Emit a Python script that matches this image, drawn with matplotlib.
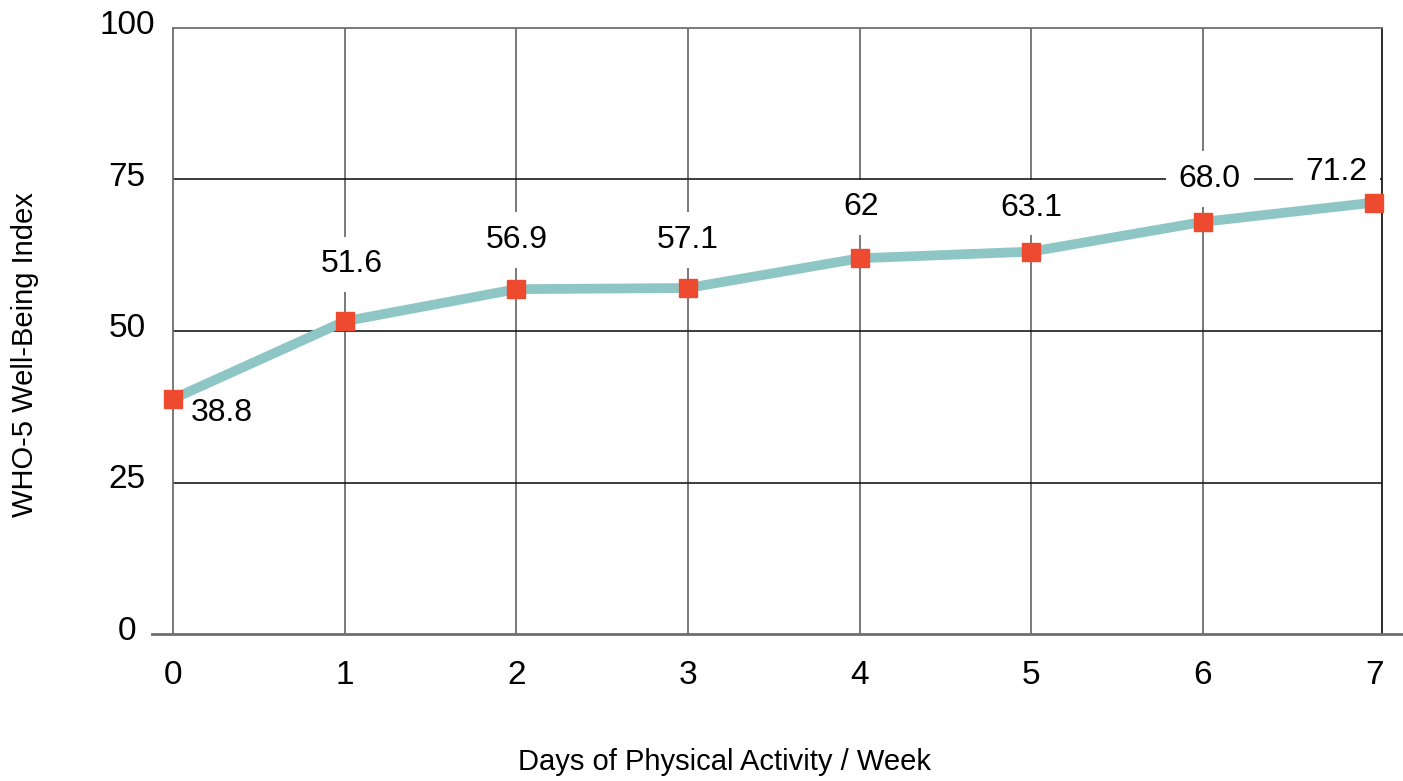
import matplotlib
matplotlib.use("Agg")
import matplotlib.pyplot as plt
import matplotlib.transforms as mtransforms

plt.rcParams['font.family'] = ['Liberation Sans', 'DejaVu Sans']

days = [0, 1, 2, 3, 4, 5, 6, 7]
wellbeing = [38.8, 51.6, 56.9, 57.1, 62, 63.1, 68.0, 71.2]
value_labels = ['38.8', '51.6', '56.9', '57.1', '62', '63.1', '68.0', '71.2']
y_ticks = [0, 25, 50, 75, 100]

# label offsets in pixels from each point (dx, dy)
label_offsets = [(49, -14), (7, 57), (0, 49), (0, 48), (2, 51), (0, 44), (7, 43), (-38, 31)]

fig = plt.figure(figsize=(14.03, 7.81), dpi=100)
ax = fig.add_axes([173 / 1403, 1 - 634 / 781, 1209 / 1403, 606 / 781])

ax.set_xlim(0, 7 + 7.5 / 171.6)
ax.set_ylim(0, 100)

# grid
for d in days[1:-1]:
    ax.axvline(d, color='#6e6e6e', lw=1.3, zorder=1)
for t in y_ticks[1:-1]:
    ax.axhline(t, color='#1a1a1a', lw=1.2, zorder=1)

for side in ['left', 'top']:
    ax.spines[side].set_color('#6e6e6e')
    ax.spines[side].set_linewidth(1.3)
ax.spines['right'].set_color('#1a1a1a')
ax.spines['right'].set_linewidth(1.3)
ax.spines['bottom'].set_visible(False)
ax.axhline(0, xmin=-21 / 1209, xmax=(1403 - 173) / 1209, color='#6e6e6e',
           lw=2, clip_on=False, zorder=3)

ax.plot(days, wellbeing, color='#8ec5c5', lw=7, zorder=4, solid_capstyle='butt')
ax.plot(days, wellbeing, ls='none', marker='s', ms=12.5, color='#ee4a30',
        mec='#ee4a30', zorder=5, clip_on=False)

for x, y, txt, (dx, dy) in zip(days, wellbeing, value_labels, label_offsets):
    ax.annotate(txt, (x, y), xytext=(dx, dy), textcoords='offset pixels',
                ha='center', va='center', fontsize=23, zorder=3,
                bbox=dict(boxstyle='square,pad=0.4', fc='white', ec='none'))

ax.set_xticks(days)
ax.set_xticklabels([str(d) for d in days])
ax.set_yticks(y_ticks)
ax.set_yticklabels([str(t) for t in y_ticks])
ax.tick_params(axis='x', length=0, pad=19, labelsize=24)
ax.tick_params(axis='y', length=0, pad=33, labelsize=24)
shift = mtransforms.ScaledTranslation(0, 6 / 100, fig.dpi_scale_trans)
for lab in ax.get_yticklabels():
    lab.set_horizontalalignment('center')
    lab.set_transform(lab.get_transform() + shift)

fig.text(724 / 1403, 1 - 762 / 781, 'Days of Physical Activity / Week',
         ha='center', va='center', fontsize=21)
fig.text(25 / 1403, 1 - 355 / 781, 'WHO-5 Well-Being Index',
         ha='center', va='center', rotation=90, fontsize=21)

fig.savefig('out.png', dpi=100)
